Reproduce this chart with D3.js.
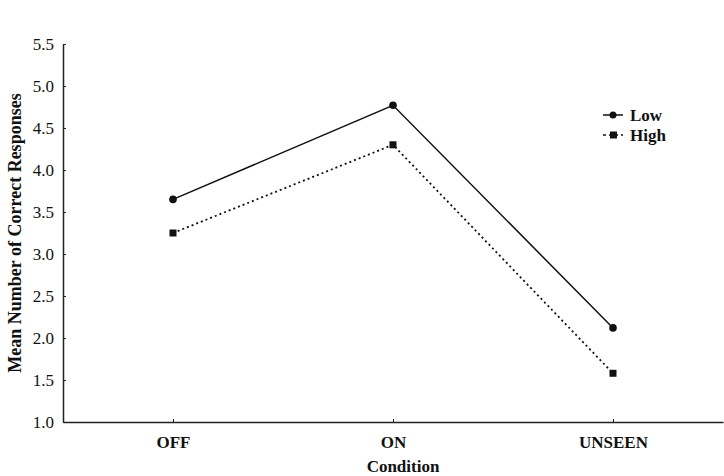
<!DOCTYPE html>
<html>
<head>
<meta charset="utf-8">
<script src="https://cdn.jsdelivr.net/npm/d3@7"></script>
<style>
  body { margin: 0; background: #fff; }
  text { font-family: "Liberation Serif", "Times New Roman", serif; fill: #111; }
</style>
</head>
<body>
<div id="chart"></div>
<script>
// Data
const conditions = ["OFF", "ON", "UNSEEN"];
const lowValues = [3.65, 4.77, 2.12];
const highValues = [3.25, 4.30, 1.58];
const yTicks = [1.0, 1.5, 2.0, 2.5, 3.0, 3.5, 4.0, 4.5, 5.0, 5.5];

// Dimensions
const W = 724, H = 476;
const margin = { top: 44, right: 1, bottom: 54, left: 63 };
const width = W - margin.left - margin.right;
const height = H - margin.top - margin.bottom;

const svg = d3.select("#chart").append("svg")
    .attr("width", W)
    .attr("height", H);

const g = svg.append("g")
    .attr("transform", `translate(${margin.left},${margin.top})`);

// Scales
const x = d3.scalePoint().domain(conditions).range([0, width]).padding(0.5);
const y = d3.scaleLinear().domain([1, 5.5]).range([height, 0]);

// Axes
const yAxis = g.append("g")
    .call(d3.axisLeft(y).tickValues(yTicks).tickFormat(d3.format(".1f")).tickSizeInner(-3).tickSizeOuter(0).tickPadding(9));
yAxis.select(".domain").attr("stroke", "#222").attr("stroke-width", 1.5);
yAxis.selectAll(".tick line").attr("stroke", "#222");
yAxis.selectAll("text").style("font-size", "17px").attr("fill", "#111");

const xAxis = g.append("g")
    .attr("transform", `translate(0,${height})`)
    .call(d3.axisBottom(x).tickSizeInner(-3).tickSizeOuter(0).tickPadding(14));
xAxis.select(".domain").attr("stroke", "#222").attr("stroke-width", 1.5);
xAxis.selectAll(".tick line").attr("stroke", "#222");
xAxis.selectAll("text").style("font-size", "17px").style("font-weight", "bold").attr("fill", "#111");

// Axis titles
g.append("text")
    .attr("x", width / 2 + 10)
    .attr("y", height + 50)
    .attr("text-anchor", "middle")
    .style("font-size", "17px")
    .style("font-weight", "bold")
    .text("Condition");

g.append("text")
    .attr("transform", `translate(${-margin.left + 21},${height / 2}) rotate(-90)`)
    .attr("text-anchor", "middle")
    .style("font-size", "18px")
    .style("font-weight", "bold")
    .text("Mean Number of Correct Responses");

// Lines
const line = d3.line()
    .x((d, i) => x(conditions[i]))
    .y(d => y(d));

g.append("path")
    .datum(lowValues)
    .attr("d", line)
    .attr("fill", "none")
    .attr("stroke", "#111")
    .attr("stroke-width", 1.5);

g.append("path")
    .datum(highValues)
    .attr("d", line)
    .attr("fill", "none")
    .attr("stroke", "#111")
    .attr("stroke-width", 1.8)
    .attr("stroke-dasharray", "2,3");

// Markers
g.selectAll(".low-pt")
    .data(lowValues)
    .enter().append("circle")
    .attr("class", "low-pt")
    .attr("cx", (d, i) => x(conditions[i]))
    .attr("cy", d => y(d))
    .attr("r", 3.8)
    .attr("fill", "#111");

const sq = 7;
g.selectAll(".high-pt")
    .data(highValues)
    .enter().append("rect")
    .attr("class", "high-pt")
    .attr("x", (d, i) => x(conditions[i]) - sq / 2)
    .attr("y", d => y(d) - sq / 2)
    .attr("width", sq)
    .attr("height", sq)
    .attr("fill", "#111");

// Legend
const legend = svg.append("g").attr("transform", "translate(603,115)");

const lowRow = legend.append("g");
lowRow.append("line")
    .attr("x1", 0).attr("x2", 20).attr("y1", 0).attr("y2", 0)
    .attr("stroke", "#111").attr("stroke-width", 1.5);
lowRow.append("circle").attr("cx", 10).attr("cy", 0).attr("r", 3.5).attr("fill", "#111");
lowRow.append("text")
    .attr("x", 27).attr("y", 6)
    .style("font-size", "17px").style("font-weight", "bold")
    .text("Low");

const highRow = legend.append("g").attr("transform", "translate(0,20)");
highRow.append("line")
    .attr("x1", 0).attr("x2", 20).attr("y1", 0).attr("y2", 0)
    .attr("stroke", "#111").attr("stroke-width", 1.5)
    .attr("stroke-dasharray", "3,3");
highRow.append("rect").attr("x", 7).attr("y", -3.5).attr("width", 7).attr("height", 7).attr("fill", "#111");
highRow.append("text")
    .attr("x", 27).attr("y", 6)
    .style("font-size", "17px").style("font-weight", "bold")
    .text("High");
</script>
</body>
</html>
